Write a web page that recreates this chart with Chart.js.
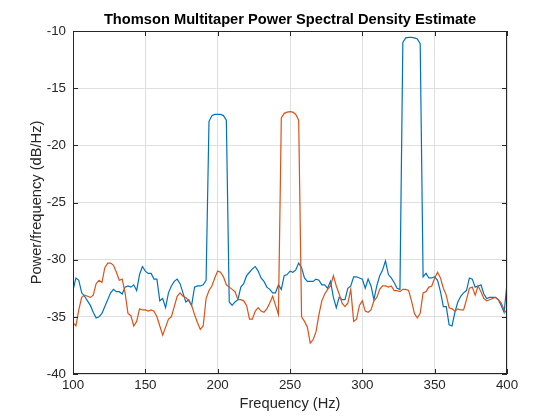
<!DOCTYPE html>
<html lang="en">
<head>
  <meta charset="UTF-8" />
  <title>Thomson Multitaper PSD</title>
  <script src="https://cdn.jsdelivr.net/npm/chart.js"></script>
  <style>
    body {
      margin: 0;
      padding: 0;
      background: #ffffff;
    }
    canvas {
      display: block;
    }
  </style>
</head>
<body>
  <canvas id="psdChart" width="560" height="420"></canvas>

  <script>
    // frequency bins (Hz)
    const freqHz = [
      100, 102, 104, 106, 108, 110, 112, 114, 116, 118,
      120, 122, 124, 126, 128, 130, 132, 134, 136, 138,
      140, 142, 144, 146, 148, 150, 152, 154, 156, 158,
      160, 162, 164, 166, 168, 170, 172, 174, 176, 178,
      180, 182, 184, 186, 188, 190, 192, 194, 196, 198,
      200, 202, 204, 206, 208, 210, 212, 214, 216, 218,
      220, 222, 224, 226, 228, 230, 232, 234, 236, 238,
      240, 242, 244, 246, 248, 250, 252, 254, 256, 258,
      260, 262, 264, 266, 268, 270, 272, 274, 276, 278,
      280, 282, 284, 286, 288, 290, 292, 294, 296, 298,
      300, 302, 304, 306, 308, 310, 312, 314, 316, 318,
      320, 322, 324, 326, 328, 330, 332, 334, 336, 338,
      340, 342, 344, 346, 348, 350, 352, 354, 356, 358,
      360, 362, 364, 366, 368, 370, 372, 374, 376, 378,
      380, 382, 384, 386, 388, 390, 392, 394, 396, 398,
      400
    ];

    // channel 1 (dB/Hz)
    const psdBlue = [
      -32.7, -31.6, -31.8, -32.9, -33.2, -33.6, -34.0, -34.6, -35.1, -35.0,
      -34.7, -34.1, -33.5, -32.9, -32.6, -32.8, -32.8, -33.0, -32.4, -32.3,
      -32.4, -32.2, -32.7, -31.3, -30.6, -31.0, -31.2, -31.2, -31.7, -31.7,
      -33.6, -33.4, -34.2, -32.9, -32.3, -31.9, -31.7, -32.1, -32.9, -33.7,
      -33.5, -34.0, -32.4, -32.3, -32.3, -32.2, -31.8, -17.9, -17.4, -17.3,
      -17.3, -17.3, -17.4, -17.8, -33.7, -34.0, -33.7, -33.5, -32.4, -32.1,
      -31.4, -31.1, -30.8, -30.6, -31.0, -31.6, -31.9, -32.4, -32.6, -32.9,
      -32.9, -32.2, -32.6, -31.4, -31.3, -31.0, -31.1, -30.9, -30.3, -30.7,
      -31.6, -31.9, -31.9, -31.9, -31.7, -31.8, -32.2, -32.2, -32.5, -31.9,
      -33.3, -34.2, -33.3, -33.5, -33.5, -32.5, -32.3, -31.5, -31.5, -31.6,
      -31.7, -32.5, -31.7, -32.3, -33.5, -32.3, -31.4, -30.9, -30.1, -31.3,
      -31.6, -32.0, -32.5, -32.6, -11.0, -10.6, -10.55, -10.55, -10.6, -10.7,
      -11.1, -31.5, -31.2, -31.6, -31.6, -31.5, -31.8, -32.8, -34.1, -34.1,
      -35.7, -35.8, -34.6, -33.7, -33.2, -32.9, -32.7, -31.6, -31.7, -32.4,
      -32.3, -32.2, -33.0, -33.4, -33.3, -33.3, -33.3, -33.5, -34.0, -34.6,
      -32.1
    ];

    // channel 2 (dB/Hz)
    const psdOrange = [
      -35.5, -35.8, -34.4, -33.3, -33.1, -33.2, -33.3, -33.1, -32.1, -31.8,
      -32.0, -30.7, -30.3, -30.3, -30.5, -31.1, -31.8, -31.7, -32.9, -34.7,
      -34.9, -35.8, -35.4, -34.3, -34.4, -34.4, -34.5, -34.4, -34.5, -35.0,
      -35.8, -36.6, -35.9, -35.2, -35.0, -34.1, -33.2, -32.9, -33.2, -33.3,
      -33.6, -34.0, -34.8, -35.5, -36.1, -35.8, -33.4, -32.7, -32.3, -31.6,
      -31.0, -31.1, -31.5, -32.2, -32.4, -32.6, -32.8, -33.5, -33.5, -33.6,
      -34.0, -35.2, -35.2, -34.5, -34.2, -34.5, -34.6, -34.3, -33.8, -33.2,
      -34.0, -34.8, -17.6, -17.2, -17.1, -17.05, -17.1, -17.3, -17.8, -35.0,
      -35.4, -35.9, -37.3, -37.0, -36.3, -34.8, -33.6, -33.0, -32.6, -32.3,
      -31.4, -32.3, -33.0, -33.8, -34.1, -33.8, -32.6, -35.4, -35.2, -34.0,
      -33.6, -34.5, -34.6, -34.4, -33.6, -33.3, -32.6, -32.3, -32.3, -32.4,
      -32.3, -32.7, -32.7, -32.8, -32.6, -32.6, -32.7, -33.6, -34.7, -35.1,
      -34.7, -32.9, -32.8, -32.4, -32.3, -31.6, -31.1, -31.6, -32.5, -33.1,
      -34.2, -34.3, -34.5, -34.3, -34.4, -34.4, -33.5, -32.5, -32.4, -33.1,
      -32.3, -32.8, -33.4, -33.6, -33.5, -33.4, -33.3, -33.5, -33.8, -34.4,
      -34.7
    ];

    const xTicks = [100, 150, 200, 250, 300, 350, 400];
    const yTicks = [-40, -35, -30, -25, -20, -15, -10];
    const chartTitle = 'Thomson Multitaper Power Spectral Density Estimate';

    const axisColor = '#262626';
    const fontFamily = "'Liberation Sans', Arial, Helvetica, sans-serif";

    // box round the plot with inward ticks on all four sides, plus the title
    const axesBox = {
      id: 'axesBox',
      afterDatasetsDraw(chart) {
        const { ctx, chartArea: a, scales: { x, y } } = chart;
        const len = 5;
        ctx.save();
        ctx.strokeStyle = axisColor;
        ctx.lineWidth = 1;
        ctx.beginPath();
        xTicks.forEach(v => {
          const px = Math.round(x.getPixelForValue(v)) + 0.5;
          ctx.moveTo(px, a.bottom);
          ctx.lineTo(px, a.bottom - len);
          ctx.moveTo(px, a.top);
          ctx.lineTo(px, a.top + len);
        });
        yTicks.forEach(v => {
          const py = Math.round(y.getPixelForValue(v)) + 0.5;
          ctx.moveTo(a.left, py);
          ctx.lineTo(a.left + len, py);
          ctx.moveTo(a.right, py);
          ctx.lineTo(a.right - len, py);
        });
        ctx.stroke();
        ctx.strokeRect(Math.round(a.left) + 0.5, Math.round(a.top) + 0.5,
          Math.round(a.width) - 1, Math.round(a.height) - 1);

        ctx.fillStyle = '#000000';
        ctx.font = 'bold 14.67px ' + fontFamily;
        ctx.textAlign = 'center';
        ctx.textBaseline = 'middle';
        ctx.fillText(chartTitle, (a.left + a.right) / 2, 20);
        ctx.restore();
      }
    };

    new Chart(document.getElementById('psdChart'), {
      type: 'line',
      data: {
        datasets: [
          {
            label: 'Channel 1',
            data: freqHz.map((f, i) => ({ x: f, y: psdBlue[i] })),
            borderColor: '#0072BD',
            borderWidth: 1.2,
            pointRadius: 0,
            tension: 0,
            order: 1
          },
          {
            label: 'Channel 2',
            data: freqHz.map((f, i) => ({ x: f, y: psdOrange[i] })),
            borderColor: '#D95319',
            borderWidth: 1.2,
            pointRadius: 0,
            tension: 0,
            order: 0
          }
        ]
      },
      options: {
        responsive: false,
        animation: false,
        devicePixelRatio: 1,
        layout: { padding: { left: 0, right: 53, top: 31, bottom: 0 } },
        plugins: {
          legend: { display: false },
          tooltip: { enabled: false },
          title: { display: false }
        },
        scales: {
          x: {
            type: 'linear',
            min: 100,
            max: 400,
            afterBuildTicks: s => { s.ticks = xTicks.map(v => ({ value: v })); },
            afterFit: s => { s.height = 46; },
            grid: { color: '#dfdfdf', drawTicks: false },
            border: { display: false },
            ticks: {
              color: axisColor,
              padding: 3,
              maxRotation: 0,
              font: { family: fontFamily, size: 13.33 }
            },
            title: {
              display: true,
              text: 'Frequency (Hz)',
              color: axisColor,
              font: { family: fontFamily, size: 14.67 },
              padding: { top: 0, bottom: 7 }
            }
          },
          y: {
            min: -40,
            max: -10,
            afterBuildTicks: s => { s.ticks = yTicks.map(v => ({ value: v })); },
            afterFit: s => { s.width = 73; },
            grid: { color: '#dfdfdf', drawTicks: false },
            border: { display: false },
            ticks: {
              color: axisColor,
              padding: 7,
              font: { family: fontFamily, size: 13.33 }
            },
            title: {
              display: true,
              text: 'Power/frequency (dB/Hz)',
              color: axisColor,
              font: { family: fontFamily, size: 14.67 },
              padding: { top: 28, bottom: 0 }
            }
          }
        }
      },
      plugins: [axesBox]
    });
  </script>
</body>
</html>
